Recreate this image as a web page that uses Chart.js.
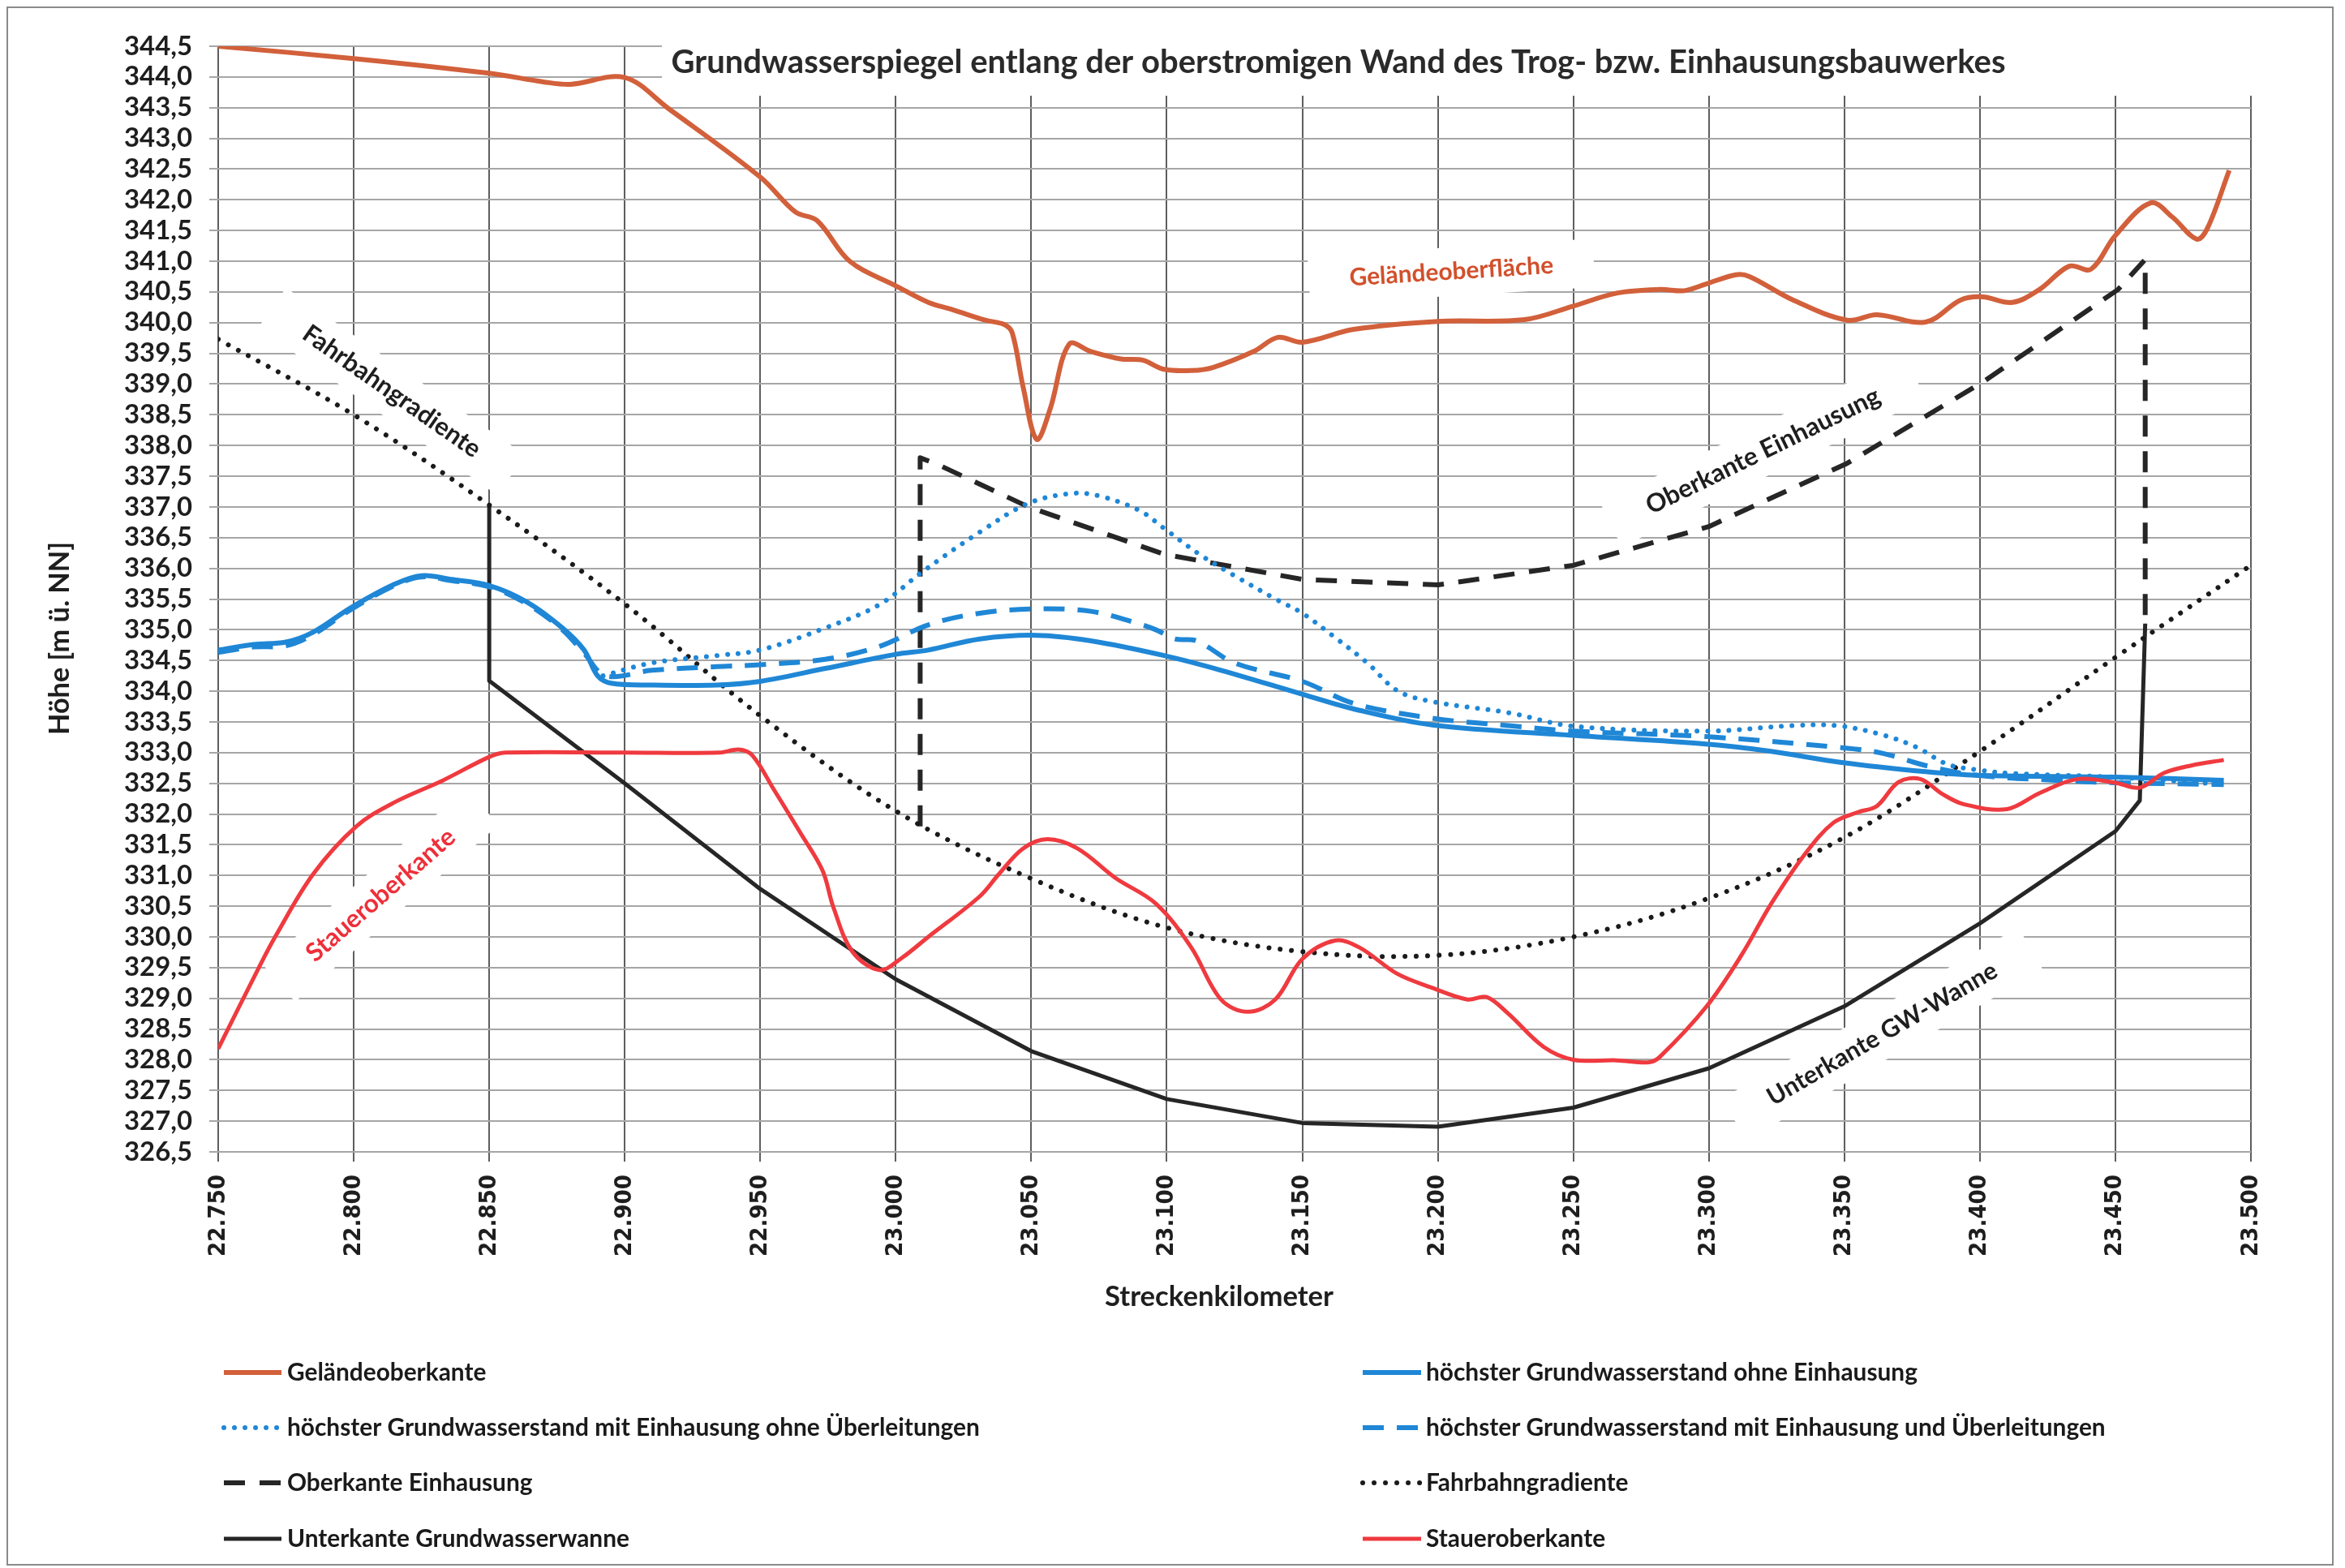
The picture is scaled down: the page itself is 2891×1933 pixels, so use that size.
<!DOCTYPE html>
<html>
<head>
<meta charset="utf-8">
<script src="https://cdn.jsdelivr.net/npm/chart.js@4.4.1/dist/chart.umd.min.js"></script>
<style>
html,body{margin:0;padding:0;background:#ffffff;}
canvas{display:block;}
</style>
</head>
<body>
<canvas id="c" width="2891" height="1933" style="width:2891px;height:1933px"></canvas>
<script>
// ---------------- DATA ----------------
const chartTitle = 'Grundwasserspiegel entlang der oberstromigen Wand des Trog- bzw. Einhausungsbauwerkes';
const xAxisTitle = 'Streckenkilometer';
const yAxisTitle = 'Höhe [m ü. NN]';

const xTickLabels = ['22.750','22.800','22.850','22.900','22.950','23.000','23.050','23.100',
                     '23.150','23.200','23.250','23.300','23.350','23.400','23.450','23.500'];
const yTickLabels = ['326,5','327,0','327,5','328,0','328,5','329,0','329,5','330,0','330,5',
                     '331,0','331,5','332,0','332,5','333,0','333,5','334,0','334,5','335,0',
                     '335,5','336,0','336,5','337,0','337,5','338,0','338,5','339,0','339,5',
                     '340,0','340,5','341,0','341,5','342,0','342,5','343,0','343,5','344,0','344,5'];

const seriesNames = [
  'Geländeoberkante',
  'höchster Grundwasserstand ohne Einhausung',
  'höchster Grundwasserstand mit Einhausung ohne Überleitungen',
  'höchster Grundwasserstand mit Einhausung und Überleitungen',
  'Oberkante Einhausung',
  'Fahrbahngradiente',
  'Unterkante Grundwasserwanne',
  'Staueroberkante'
];

// Geländeoberkante
const gelKm = [22.750,22.800,22.850,22.870,22.880,22.900,22.916,22.950,22.963,22.971,22.983,23.000,23.012,23.021,
  23.033,23.040,23.043,23.047,23.052,23.057,23.064,23.072,23.083,23.091,23.099,23.109,23.117,23.132,23.141,23.150,
  23.169,23.200,23.232,23.250,23.266,23.282,23.291,23.299,23.310,23.315,23.331,23.351,23.362,23.380,23.393,23.401,
  23.412,23.422,23.433,23.441,23.450,23.463,23.471,23.480,23.484,23.492];
const gelH = [344.50,344.30,344.06,343.92,343.88,343.99,343.49,342.37,341.80,341.66,341.00,340.60,340.33,340.21,
  340.04,339.97,339.83,338.95,338.10,338.60,339.65,339.53,339.41,339.39,339.24,339.22,339.27,339.53,339.76,339.68,
  339.89,340.02,340.05,340.27,340.48,340.54,340.52,340.63,340.78,340.75,340.37,340.04,340.13,340.01,340.37,340.42,
  340.33,340.54,340.92,340.87,341.42,341.95,341.72,341.36,341.54,342.48];

// höchster Grundwasserstand ohne Einhausung
const gwOhneKm = [22.750,22.763,22.775,22.785,22.799,22.815,22.825,22.836,22.850,22.864,22.877,22.885,22.890,22.895,
  22.910,22.934,22.950,22.974,23.000,23.012,23.031,23.052,23.072,23.099,23.120,23.150,23.169,23.198,23.250,23.299,
  23.323,23.349,23.380,23.399,23.450,23.490];
const gwOhneH = [334.67,334.76,334.80,334.96,335.36,335.74,335.88,335.82,335.72,335.45,335.03,334.67,334.25,334.13,
  334.10,334.10,334.16,334.37,334.60,334.67,334.85,334.91,334.82,334.58,334.34,333.95,333.71,333.45,333.28,333.14,
  333.02,332.84,332.69,332.63,332.60,332.55];

// höchster Grundwasserstand mit Einhausung ohne Überleitungen
const gwMitOhneKm = [22.892,22.910,22.934,22.950,22.974,22.994,23.010,23.031,23.049,23.065,23.075,23.090,23.099,
  23.112,23.125,23.141,23.150,23.161,23.174,23.185,23.198,23.226,23.250,23.299,23.331,23.347,23.364,23.377,23.388,
  23.399,23.412,23.450,23.490];
const gwMitOhneH = [334.25,334.46,334.58,334.67,335.03,335.41,335.95,336.59,337.06,337.22,337.18,336.94,336.65,
  336.23,335.88,335.48,335.27,334.91,334.46,334.01,333.83,333.65,333.43,333.35,333.44,333.44,333.29,333.08,332.81,
  332.72,332.66,332.60,332.48];

// höchster Grundwasserstand mit Einhausung und Überleitungen
const gwMitUndKm = [22.750,22.763,22.775,22.785,22.799,22.815,22.825,22.836,22.850,22.864,22.877,22.885,22.893,
  22.910,22.934,22.950,22.974,22.994,23.012,23.031,23.052,23.072,23.088,23.096,23.103,23.111,23.125,23.150,23.169,
  23.198,23.226,23.250,23.299,23.349,23.364,23.380,23.399,23.428,23.450,23.490];
const gwMitUndH = [334.63,334.72,334.74,334.92,335.33,335.72,335.86,335.80,335.70,335.42,335.00,334.62,334.25,
  334.34,334.40,334.43,334.52,334.73,335.08,335.27,335.34,335.30,335.12,335.00,334.85,334.82,334.46,334.16,333.80,
  333.56,333.44,333.35,333.26,333.08,332.99,332.79,332.63,332.55,332.51,332.48];

// Oberkante Einhausung
const okKm = [23.009,23.009,23.016,23.049,23.099,23.150,23.200,23.250,23.300,23.351,23.401,23.451,23.461,23.461];
const okH  = [331.80,337.80,337.68,337.00,336.23,335.82,335.73,336.05,336.68,337.71,339.03,340.54,341.03,335.10];

// Fahrbahngradiente
const fbKm = [22.750,22.800,22.850,22.900,22.950,23.000,23.050,23.100,23.150,23.200,23.250,23.300,23.350,23.400,23.450,23.500];
const fbH  = [339.73,338.50,337.03,335.42,333.60,332.05,330.95,330.15,329.76,329.70,330.00,330.63,331.62,333.02,334.55,336.05];

// Unterkante Grundwasserwanne
const ukKm = [22.850,22.850,22.900,22.950,23.000,23.050,23.100,23.150,23.200,23.250,23.300,23.350,23.400,23.450,23.459,23.461];
const ukH  = [337.00,334.17,332.50,330.78,329.31,328.14,327.36,326.97,326.91,327.22,327.86,328.87,330.22,331.72,332.22,335.10];

// Staueroberkante
const stKm = [22.750,22.765,22.771,22.785,22.801,22.815,22.833,22.850,22.856,22.900,22.935,22.942,22.947,22.955,
  22.965,22.973,22.977,22.984,22.994,23.002,23.012,23.031,23.038,23.047,23.056,23.067,23.081,23.096,23.109,23.120,
  23.130,23.140,23.150,23.162,23.171,23.185,23.198,23.211,23.218,23.226,23.239,23.250,23.266,23.278,23.282,23.299,
  23.312,23.323,23.336,23.346,23.355,23.362,23.370,23.378,23.386,23.394,23.410,23.422,23.436,23.450,23.459,23.468,
  23.478,23.490];
const stH = [328.18,329.50,330.00,331.02,331.80,332.19,332.55,332.93,333.00,333.00,333.00,333.05,332.96,332.40,
  331.68,331.08,330.48,329.76,329.46,329.65,330.00,330.66,331.02,331.44,331.59,331.44,330.96,330.54,329.83,328.98,
  328.78,328.98,329.64,329.94,329.83,329.40,329.17,328.98,329.02,328.75,328.21,328.00,327.99,327.96,328.05,328.86,
  329.70,330.54,331.38,331.86,332.03,332.13,332.52,332.57,332.33,332.16,332.08,332.34,332.57,332.51,332.43,332.67,
  332.79,332.88];

// in-chart labels
const chartLabels = [
  {text:'Fahrbahngradiente',    km:22.814, h:338.88, angle: 35,  w:260, color:'#1e1e1e'},
  {text:'Oberkante Einhausung', km:23.320, h:337.91, angle:-26,  w:317, color:'#1e1e1e'},
  {text:'Staueroberkante',      km:22.810, h:330.68, angle:-41,  w:232, color:'#ee2f3a'},
  {text:'Unterkante GW-Wanne',  km:23.364, h:328.42, angle:-30,  w:322, color:'#1e1e1e'},
  {text:'Geländeoberfläche',    km:23.205, h:340.83, angle:-3.5, w:252, color:'#d2502c'}
];

// ---------------- HELPERS ----------------
const CAL = "Lato, 'Open Sans', sans-serif";
const NARROW = "'Liberation Sans Narrow', 'DejaVu Sans Condensed', 'DejaVu Sans', sans-serif";
const meas = document.createElement('canvas').getContext('2d');
function fit(text, family, target) {
  meas.font = 'bold 100px ' + family;
  return 100 * target / meas.measureText(text).width;
}
const pts = (km, h) => km.map((k, i) => ({x: k, y: h[i]}));
const parseY = s => parseFloat(s.replace(',', '.'));

const ORANGE = '#d2603b', BLUE = '#1f87d6', RED = '#ef3a3f', DARK = '#262626';

const datasets = [
  {label: seriesNames[0], data: pts(gelKm, gelH), borderColor: ORANGE, borderWidth: 6, tension: 0.35, order: 2},
  {label: seriesNames[1], data: pts(gwOhneKm, gwOhneH), borderColor: BLUE, borderWidth: 6, tension: 0.35, order: 5},
  {label: seriesNames[2], data: pts(gwMitOhneKm, gwMitOhneH), borderColor: BLUE, borderWidth: 6, tension: 0.35,
    borderDash: [0.01, 13], borderCapStyle: 'round', order: 3},
  {label: seriesNames[3], data: pts(gwMitUndKm, gwMitUndH), borderColor: BLUE, borderWidth: 6, tension: 0.35,
    borderDash: [26, 16], order: 4},
  {label: seriesNames[4], data: pts(okKm, okH), borderColor: DARK, borderWidth: 6, tension: 0,
    borderDash: [26, 18], order: 7},
  {label: seriesNames[5], data: pts(fbKm, fbH), borderColor: '#1a1a1a', borderWidth: 6, tension: 0.35,
    borderDash: [0.01, 14], borderCapStyle: 'round', order: 6},
  {label: seriesNames[6], data: pts(ukKm, ukH), borderColor: DARK, borderWidth: 5, tension: 0, order: 8},
  {label: seriesNames[7], data: pts(stKm, stH), borderColor: RED, borderWidth: 5, tension: 0.35, order: 1}
];
datasets.forEach(d => { d.pointRadius = 0; d.fill = false; d.borderJoinStyle = 'round'; });

const yTickSize = fit('344,5', CAL, 84);
const xTickSize = fit('22.750', NARROW, 101);

// ---------------- PLUGINS ----------------
const decor = {
  id: 'decor',
  afterDatasetsDraw(chart) {
    const {ctx, scales: {x, y}} = chart;
    ctx.save();
    // in-chart labels with white boxes
    chartLabels.forEach(l => {
      const px = x.getPixelForValue(l.km), py = y.getPixelForValue(l.h);
      ctx.save();
      ctx.translate(px, py);
      ctx.rotate(l.angle * Math.PI / 180);
      ctx.fillStyle = '#ffffff';
      const bw = l.w + 100, bh = 60;
      ctx.fillRect(-bw / 2, -bh / 2, bw, bh);
      ctx.fillStyle = l.color;
      ctx.font = 'bold ' + fit(l.text, CAL, l.w).toFixed(2) + 'px ' + CAL;
      ctx.textAlign = 'center';
      ctx.textBaseline = 'middle';
      ctx.fillText(l.text, 0, 0);
      ctx.restore();
    });
    // title with white box
    ctx.fillStyle = '#ffffff';
    ctx.fillRect(816, 38, 2785 - 816, 118 - 38);
    ctx.fillStyle = '#2a2a2a';
    ctx.font = 'bold ' + fit(chartTitle, CAL, 1645).toFixed(2) + 'px ' + CAL;
    ctx.textAlign = 'center';
    ctx.textBaseline = 'middle';
    ctx.fillText(chartTitle, 1650, 77);
    ctx.restore();
  },
  afterDraw(chart) {
    const {ctx} = chart;
    ctx.save();
    // outer frame
    ctx.strokeStyle = '#8a8a8a';
    ctx.lineWidth = 2;
    ctx.strokeRect(9, 9, 2867, 1920);
    // axis titles
    ctx.fillStyle = '#1e1e1e';
    ctx.textAlign = 'center';
    ctx.textBaseline = 'middle';
    ctx.font = 'bold ' + fit(xAxisTitle, CAL, 282).toFixed(2) + 'px ' + CAL;
    ctx.fillText(xAxisTitle, 1503, 1599);
    ctx.save();
    ctx.translate(74, 787);
    ctx.rotate(-Math.PI / 2);
    ctx.font = 'bold ' + fit(yAxisTitle, CAL, 238).toFixed(2) + 'px ' + CAL;
    ctx.fillText(yAxisTitle, 0, 0);
    ctx.restore();
    // legend (2 columns, row-major)
    const legSize = fit(seriesNames[2], CAL, 854);
    const rowsY = [1692, 1760, 1828, 1897];
    const cols = [{x0: 276, x1: 347, tx: 354}, {x0: 1680, x1: 1752, tx: 1758}];
    chart.data.datasets.forEach((ds, i) => {
      const col = cols[i % 2], yc = rowsY[Math.floor(i / 2)];
      ctx.save();
      ctx.strokeStyle = ds.borderColor;
      ctx.lineWidth = ds.borderWidth;
      ctx.lineCap = ds.borderCapStyle || 'butt';
      ctx.setLineDash(ds.borderDash || []);
      ctx.beginPath();
      ctx.moveTo(col.x0, yc);
      ctx.lineTo(col.x1, yc);
      ctx.stroke();
      ctx.restore();
      ctx.fillStyle = '#1a1a1a';
      ctx.textAlign = 'left';
      ctx.textBaseline = 'middle';
      ctx.font = 'bold ' + legSize.toFixed(2) + 'px ' + CAL;
      ctx.fillText(ds.label, col.tx, yc);
    });
    ctx.restore();
  }
};

// ---------------- CHART ----------------
new Chart(document.getElementById('c'), {
  type: 'line',
  data: {datasets},
  options: {
    responsive: false,
    animation: false,
    devicePixelRatio: 1,
    layout: {padding: {left: 0, top: 57, right: 116, bottom: 0}},
    plugins: {legend: {display: false}, title: {display: false}, tooltip: {enabled: false}},
    scales: {
      x: {
        type: 'linear',
        min: 22.75, max: 23.5,
        afterBuildTicks: s => { s.ticks = xTickLabels.map(t => ({value: parseFloat(t)})); },
        afterFit: s => { s.height = 1933 - 1420; },
        ticks: {
          autoSkip: false, minRotation: 90, maxRotation: 90, padding: 16,
          color: '#1e1e1e',
          font: {family: NARROW, size: xTickSize, weight: 'bold'},
          callback: (v, i) => xTickLabels[i]
        },
        grid: {color: '#5e5e5e', lineWidth: 2, tickLength: 12},
        border: {display: false}
      },
      y: {
        type: 'linear',
        min: 326.5, max: 344.5,
        afterBuildTicks: s => { s.ticks = yTickLabels.map(t => ({value: parseY(t)})); },
        afterFit: s => { s.width = 269; },
        ticks: {
          autoSkip: false, padding: 21,
          color: '#1e1e1e',
          font: {family: CAL, size: yTickSize, weight: 'bold'},
          callback: (v, i) => yTickLabels[i]
        },
        grid: {color: '#a6a6a6', lineWidth: 2, tickLength: 11},
        border: {display: false}
      }
    }
  },
  plugins: [decor]
});
</script>
</body>
</html>
